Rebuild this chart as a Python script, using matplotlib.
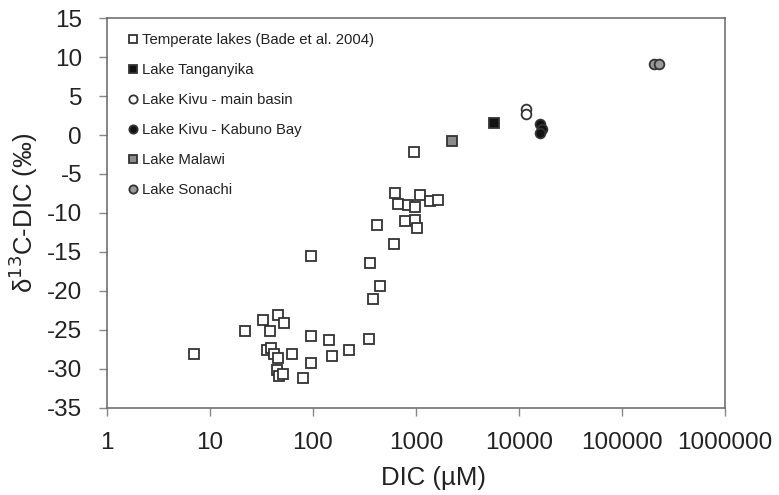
import matplotlib
matplotlib.use("Agg")
import matplotlib.pyplot as plt
from matplotlib.ticker import FixedLocator, FuncFormatter, NullLocator

plt.rcParams['font.family'] = ['Liberation Sans', 'DejaVu Sans']
plt.rcParams['axes.unicode_minus'] = False

# Temperate lakes (Bade et al. 2004)
temp_dic = [7.0, 22, 33, 46, 52, 38, 35.5, 39.4, 42, 46, 62, 45, 47, 51.5,
            95, 95, 80, 143, 152, 224, 349, 382, 443, 357, 610, 421, 789,
            984, 1024, 632, 1105, 670, 838, 973, 1377, 1634, 952, 95]
temp_d13c = [-28.1, -25.2, -23.8, -23.1, -24.1, -25.2, -27.6, -27.3, -28.1,
             -28.7, -28.1, -30.2, -30.9, -30.7, -25.8, -29.3, -31.2, -26.3,
             -28.4, -27.6, -26.2, -21.0, -19.4, -16.4, -14.0, -11.6, -11.0,
             -10.9, -11.9, -7.5, -7.7, -8.8, -9.0, -9.3, -8.5, -8.4, -2.2, -15.6]

tang_dic = [5780]
tang_d13c = [1.5]

kivu_dic = [11600, 11600]
kivu_d13c = [3.4, 2.7]

kabuno_dic = [15960, 16560, 15960]
kabuno_d13c = [1.46, 0.82, 0.25]

malawi_dic = [2234]
malawi_d13c = [-0.8]

sonachi_dic = [204000, 229000]
sonachi_d13c = [9.1, 9.1]

x_ticks = [1, 10, 100, 1000, 10000, 100000, 1000000]
y_ticks = list(range(-35, 16, 5))

edge = '#333333'

fig = plt.figure(figsize=(7.79, 4.95), dpi=100)
ax = fig.add_axes([107/779, 1 - 407.5/495, (725 - 107)/779, (407.5 - 18.3)/495])

kw = dict(linestyle='none', markersize=7, markeredgewidth=1.3, markeredgecolor=edge)
ax.plot(temp_dic, temp_d13c, marker='s', markerfacecolor='white',
        label='Temperate lakes (Bade et al. 2004)', **kw)
ax.plot(tang_dic, tang_d13c, marker='s', markerfacecolor='#111111',
        label='Lake Tanganyika', **kw)
ax.plot(kivu_dic, kivu_d13c, marker='o', markerfacecolor='white',
        label='Lake Kivu - main basin', **kw)
ax.plot(kabuno_dic, kabuno_d13c, marker='o', markerfacecolor='#111111',
        label='Lake Kivu - Kabuno Bay', **kw)
ax.plot(malawi_dic, malawi_d13c, marker='s', markerfacecolor='#8c8c8c',
        label='Lake Malawi', **kw)
ax.plot(sonachi_dic, sonachi_d13c, marker='o', markerfacecolor='#9a9a9a',
        label='Lake Sonachi', **kw)

ax.set_xscale('log')
ax.set_xlim(1, 1000000)
ax.set_ylim(-35, 15)
ax.xaxis.set_major_locator(FixedLocator(x_ticks))
ax.xaxis.set_minor_locator(NullLocator())
ax.xaxis.set_major_formatter(FuncFormatter(lambda v, p: '%d' % round(v)))
ax.yaxis.set_major_locator(FixedLocator(y_ticks))
ax.yaxis.set_major_formatter(FuncFormatter(lambda v, p: '%d' % round(v)))

for s in ax.spines.values():
    s.set_color('#666666')
    s.set_linewidth(1.1)
ax.tick_params(direction='out', length=5.5, width=1, color='#888888',
               labelsize=17.5, labelcolor='#222222')
ax.tick_params(axis='x', pad=12)
ax.tick_params(axis='y', pad=12.5)

ax.set_xlabel('DIC (µM)', fontsize=18.5, color='#222222')
ax.set_ylabel('δ$^{13}$C-DIC (‰)', fontsize=18.5, color='#222222')
ax.xaxis.set_label_coords(0.529, -0.15)
ax.yaxis.set_label_coords(-0.109, 0.5)

leg = ax.legend(loc='upper left', bbox_to_anchor=(0.035, 0.962), frameon=False,
                fontsize=10.7, handlelength=0.6, handletextpad=0.3,
                labelspacing=1.08, borderaxespad=0, borderpad=0, markerscale=0.85)
for t in leg.get_texts():
    t.set_color('#222222')

fig.savefig('out.png', dpi=100)
